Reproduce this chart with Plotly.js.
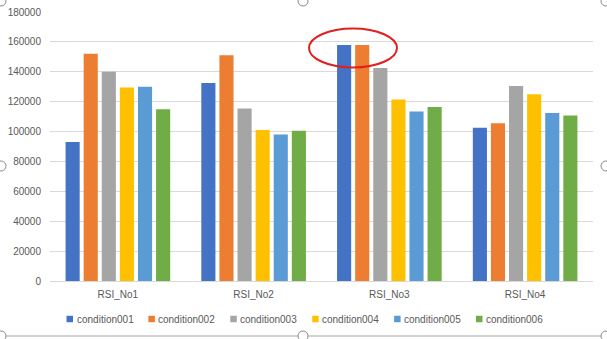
<!DOCTYPE html>
<html>
<head>
<meta charset="utf-8">
<script src="https://cdn.plot.ly/plotly-3.0.1.min.js"></script>
<style>
  html, body { margin: 0; padding: 0; background: #ffffff; }
  #chart { width: 607px; height: 339px; }
</style>
</head>
<body>
<div id="chart"></div>
<script>
// ---- data ----
const categories = ["RSI_No1", "RSI_No2", "RSI_No3", "RSI_No4"];
const seriesNames = ["condition001", "condition002", "condition003", "condition004", "condition005", "condition006"];
const condition001 = [93000, 132500, 158000, 102500];
const condition002 = [152000, 151000, 158000, 105500];
const condition003 = [140000, 115500, 142500, 130500];
const condition004 = [129500, 101000, 121500, 125000];
const condition005 = [130000, 98000, 113500, 112500];
const condition006 = [115000, 100500, 116500, 110800];
const yTickValues = [0, 20000, 40000, 60000, 80000, 100000, 120000, 140000, 160000, 180000];

// ---- styling ----
const seriesValues = [condition001, condition002, condition003, condition004, condition005, condition006];
const colors = ["#4472C4", "#ED7D31", "#A5A5A5", "#FFC000", "#5B9BD5", "#70AD47"];
const font = "Liberation Sans, Arial, sans-serif";
const textColor = "#595959";

const traces = seriesNames.map((name, i) => ({
  type: "bar",
  name: name,
  x: categories,
  y: seriesValues[i],
  marker: { color: colors[i], line: { width: 0 } },
  hoverinfo: "x+y+name"
}));

// canvas -> paper helpers
const L = 50, R = 14, T = 12, B = 58, W = 607, H = 339;
const pw = W - L - R, ph = H - T - B;
const px = v => (v - L) / pw;
const py = v => (H - B - v) / ph;

const shapes = [];
const annotations = [];

// legend (built from series names and colours), laid out like the Excel legend
const legendStartX = 66.5, legendStep = 81.9, legendY = 319, sw = 6.5;
seriesNames.forEach((name, i) => {
  const lx = legendStartX + i * legendStep;
  shapes.push({
    type: "rect", xref: "paper", yref: "paper",
    x0: px(lx), x1: px(lx + sw), y0: py(legendY + sw / 2), y1: py(legendY - sw / 2),
    line: { width: 0 }, fillcolor: colors[i]
  });
  annotations.push({
    xref: "paper", yref: "paper",
    x: px(lx + sw + 1.5), y: py(legendY),
    xanchor: "left", yanchor: "middle",
    text: name, showarrow: false,
    font: { family: font, size: 10, color: textColor }
  });
});

// chart-area frame with selection handles
const handles = [[1, 1], [303, 1], [606, 1], [1, 166], [606, 166], [1, 336], [303, 336], [606, 336]];
shapes.push({
  type: "line", xref: "paper", yref: "paper",
  x0: px(0), x1: px(607), y0: py(336), y1: py(336),
  line: { color: "#a6a6a6", width: 1 }
});
handles.forEach(([hx, hy]) => {
  shapes.push({
    type: "circle", xref: "paper", yref: "paper",
    x0: px(hx - 5), x1: px(hx + 5), y0: py(hy + 5), y1: py(hy - 5),
    line: { color: "#8c8c8c", width: 1 }, fillcolor: "#ffffff"
  });
});
// red highlight ellipse
shapes.push({
  type: "circle", xref: "paper", yref: "paper",
  x0: px(309), x1: px(397), y0: py(67.5), y1: py(28.5),
  line: { color: "#e0201f", width: 2 }
});

const layout = {
  width: W, height: H,
  margin: { l: L, r: R, t: T, b: B, pad: 0 },
  paper_bgcolor: "#ffffff",
  plot_bgcolor: "#ffffff",
  barmode: "group",
  bargap: 0.2,
  bargroupgap: 0.22,
  font: { family: font, size: 10, color: textColor },
  showlegend: false,
  xaxis: {
    type: "category",
    showgrid: false,
    zeroline: false,
    showline: false,
    ticks: "",
    ticklabelstandoff: 6,
    tickfont: { family: font, size: 10, color: textColor },
    fixedrange: true,
    automargin: false
  },
  yaxis: {
    range: [0, 180000],
    tickvals: yTickValues,
    ticktext: yTickValues.map(v => String(v)),
    showgrid: true,
    gridcolor: "#d9d9d9",
    gridwidth: 1,
    zeroline: true,
    zerolinecolor: "#d9d9d9",
    zerolinewidth: 1,
    showline: false,
    ticks: "",
    ticklabelstandoff: 8,
    tickfont: { family: font, size: 10, color: textColor },
    fixedrange: true,
    automargin: false
  },
  shapes: shapes,
  annotations: annotations
};

Plotly.newPlot("chart", traces, layout, { displayModeBar: false, staticPlot: true });
</script>
</body>
</html>
